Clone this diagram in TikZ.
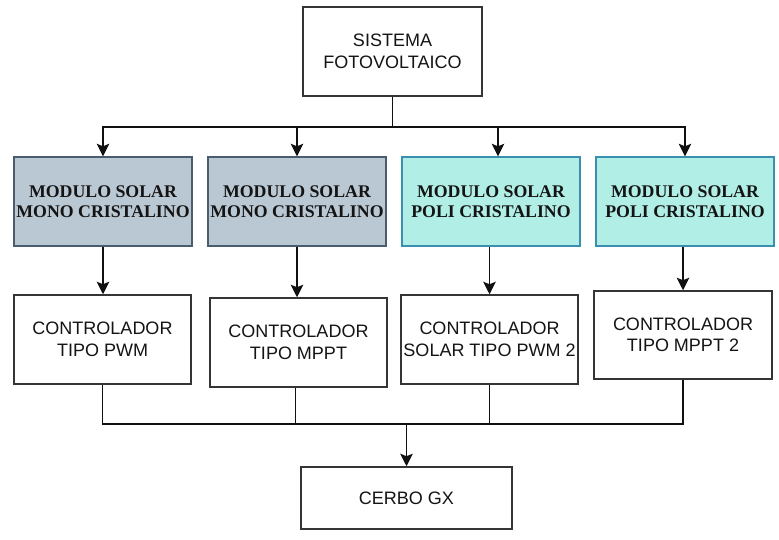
\documentclass[tikz,border=0pt]{standalone}
\usepackage{fontspec}
\setmainfont{Liberation Serif}
\setsansfont{Liberation Sans}
\usetikzlibrary{arrows.meta}
\definecolor{grayfill}{HTML}{BAC8D3}
\definecolor{graydraw}{HTML}{4A5C6E}
\definecolor{tealfill}{HTML}{B1EFE6}
\definecolor{tealdraw}{HTML}{3A8FB0}
\definecolor{txt}{HTML}{141414}
\definecolor{linec}{HTML}{111111}
\begin{document}
\begin{tikzpicture}[x=1pt,y=-1pt,
  box/.style={draw=linec!85!white, line width=1.5pt, fill=white, inner sep=0pt, align=center,
    text=txt, font=\sffamily\fontsize{18}{21.5}\selectfont},
  monobox/.style={draw=graydraw, line width=1.4pt, fill=grayfill, inner sep=0pt, align=center,
    text=txt, font=\rmfamily\bfseries\fontsize{17.8}{20.5}\selectfont,
    minimum width=178pt, minimum height=89pt},
  polibox/.style={monobox, draw=tealdraw, fill=tealfill},
  conn/.style={draw=linec, line width=1.4pt},
  arr/.style={conn, -{Stealth[length=12.5pt, width=12.5pt, inset=2.5pt]}}
]
\useasboundingbox (0,0) rectangle (779,540);

\node[box, minimum width=179pt, minimum height=89pt] (top) at (392.5,51.5) {SISTEMA\\FOTOVOLTAICO};

\node[monobox] (m1) at (103,201.5) {MODULO SOLAR\\MONO CRISTALINO};
\node[monobox] (m2) at (297,201.5) {MODULO SOLAR\\MONO CRISTALINO};
\node[polibox] (m3) at (491,201.5) {MODULO SOLAR\\POLI CRISTALINO};
\node[polibox] (m4) at (685,201.5) {MODULO SOLAR\\POLI CRISTALINO};

\node[box, minimum width=177pt, minimum height=89pt] (c1) at (102.5,339.5) {CONTROLADOR\\TIPO PWM};
\node[box, minimum width=177pt, minimum height=89pt] (c2) at (298.5,342.5) {CONTROLADOR\\TIPO MPPT};
\node[box, minimum width=177pt, minimum height=89pt] (c3) at (489.5,339.5) {CONTROLADOR\\SOLAR TIPO PWM 2};
\node[box, minimum width=178pt, minimum height=88pt] (c4) at (683,335) {CONTROLADOR\\TIPO MPPT 2};

\node[box, minimum width=211pt, minimum height=62pt] (cerbo) at (406.5,498) {CERBO GX};

% top distribution
\coordinate (tj) at (392.5,127);
\draw[conn] (top.south) -- (tj);
\draw[arr] (tj) -| (m1.north);
\draw[arr] (tj) -| (m2.north);
\draw[arr] (tj) -| ([xshift=7pt]m3.north);
\draw[arr] (tj) -| (m4.north);

% modules to controllers
\draw[arr] (m1.south) -- (m1.south |- c1.north);
\draw[arr] (m2.south) -- (m2.south |- c2.north);
\draw[arr] (c3.north |- m3.south) -- (c3.north);
\draw[arr] (c4.north |- m4.south) -- (c4.north);

% controllers to cerbo
\coordinate (bj) at (406.5,424);
\draw[conn] (c1.south) |- (bj);
\draw[conn] ([xshift=-3pt]c2.south) |- (bj);
\draw[conn] (c3.south) |- (bj);
\draw[conn] (c4.south) |- (bj);
\draw[arr, line width=1.9pt] (bj) -- (cerbo.north);
\end{tikzpicture}
\end{document}
